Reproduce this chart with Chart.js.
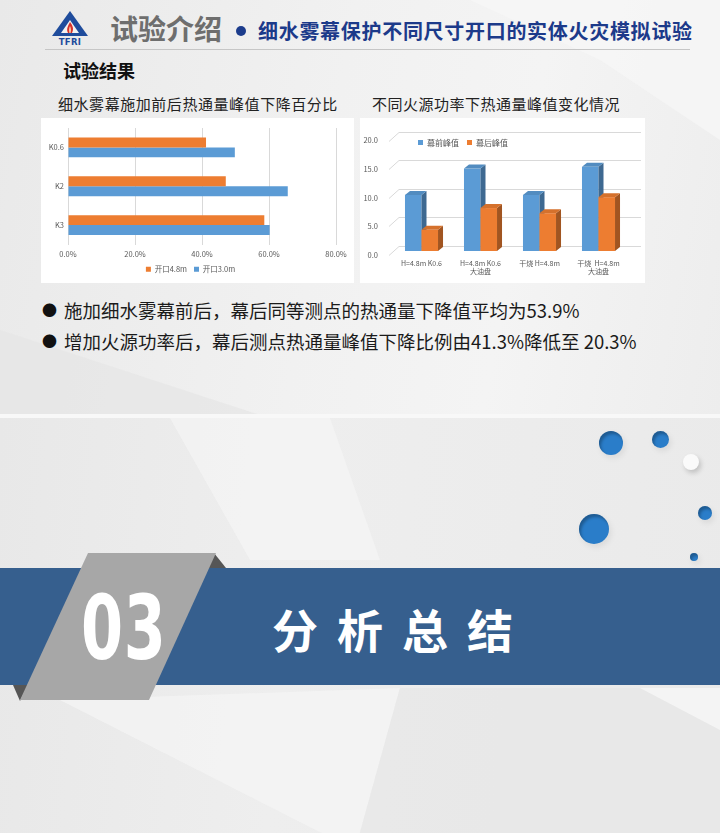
<!DOCTYPE html>
<html><head><meta charset="utf-8">
<script src="https://cdn.jsdelivr.net/npm/chart.js@4.4.1/dist/chart.umd.min.js"></script>
<style>
html,body{margin:0;padding:0;width:720px;height:833px;overflow:hidden;background:#ececec;font-family:"Noto Sans CJK SC","Noto Sans",sans-serif;}
#page{position:relative;width:720px;height:833px;overflow:hidden;}
.a{position:absolute;}
.facet{position:absolute;left:0;top:0;width:720px;height:833px;}
.dot{position:absolute;border-radius:50%;background:#2a7dc9;box-shadow:inset 2px 3px 3px rgba(0,0,0,0.28),2px 3px 6px rgba(0,0,0,0.08);}
canvas{position:absolute;background:#fff;}
.t{white-space:nowrap;line-height:1;}
</style></head><body>
<div id="page">
  <!-- top slide background -->
  <div class="a" style="left:0;top:0;width:720px;height:415px;background:linear-gradient(100deg,#e9e9e9 0%,#f1f1f1 45%,#f4f4f4 70%,#ededed 100%);"></div>
  <div class="facet" style="background:#f6f6f6;clip-path:polygon(470px 0,720px 0,720px 140px,600px 60px);opacity:.8"></div>
  <div class="facet" style="background:#e6e6e6;clip-path:polygon(0 330px,260px 415px,0 415px);opacity:.7"></div>
  <!-- divider -->
  <div class="a" style="left:0;top:414px;width:720px;height:4px;background:#f8f8f8;"></div>
  <!-- bottom slide background -->
  <div class="a" style="left:0;top:418px;width:720px;height:415px;background:linear-gradient(95deg,#e8e8e8 0%,#eeeeee 40%,#ececec 70%,#eaeaea 100%);"></div>
  <div class="facet" style="background:#f3f3f3;clip-path:polygon(170px 418px,330px 418px,380px 560px,250px 560px);opacity:.9"></div>
  <div class="facet" style="background:#f3f3f3;clip-path:polygon(60px 700px,400px 688px,355px 850px);opacity:.9"></div>
  <div class="facet" style="background:#e7e7e7;clip-path:polygon(400px 688px,720px 688px,720px 833px,360px 833px);opacity:.8"></div>
  <div class="facet" style="background:#f5f5f5;clip-path:polygon(640px 688px,720px 688px,720px 730px);opacity:.9"></div>

  <!-- header -->
  <svg class="a" style="left:50px;top:11px" width="40" height="36" viewBox="0 0 40 36">
    <polygon points="20,0 38,25 2,25" fill="#1f4c9c"/>
    <polygon points="20,9 29,22 11,22" fill="#f2f2f2"/>
    <path d="M20,11 C23,15 24,18 22,22 L18,22 C16,18 18,15 20,11 Z" fill="#d9322a"/>
    <path d="M20,15 C21,17 21.5,19 20.6,22 L19.4,22 C18.6,19 19,17 20,15 Z" fill="#f6c1a0"/>
    <text x="20" y="34" text-anchor="middle" font-family="DejaVu Sans" font-weight="bold" font-size="8.5" fill="#1f4c9c" letter-spacing="0.3">TFRI</text>
  </svg>
  <div class="a t" style="left:110px;top:14px;font-size:28px;font-weight:bold;color:#6e6e6e;">试验介绍</div>
  <div class="a" style="left:236px;top:26px;width:10px;height:10px;border-radius:50%;background:#1c3c8c;"></div>
  <div class="a t" style="left:258px;top:21px;font-size:20px;font-weight:bold;color:#1c3a8a;letter-spacing:0.7px;">细水雾幕保护不同尺寸开口的实体火灾模拟试验</div>
  <div class="a" style="left:45px;top:49px;width:645px;height:1px;background:#c6c6c6;"></div>
  <div class="a t" style="left:63px;top:61px;font-size:18px;font-weight:bold;color:#111;">试验结果</div>

  <div class="a t" style="left:58px;top:96px;font-size:15px;color:#222;letter-spacing:0.55px;">细水雾幕施加前后热通量峰值下降百分比</div>
  <div class="a t" style="left:372px;top:96px;font-size:15px;color:#222;letter-spacing:0.5px;">不同火源功率下热通量峰值变化情况</div>

  <canvas id="c1" width="313" height="165" style="left:41px;top:118px;"></canvas>
  <canvas id="c2" width="285" height="165" style="left:360px;top:118px;"></canvas>

  <div class="a t" style="left:42px;top:302px;font-size:15px;color:#111;">●</div>
  <div class="a t" style="left:64px;top:301px;font-size:18.5px;color:#1a1a1a;">施加细水雾幕前后，幕后同等测点的热通量下降值平均为53.9%</div>
  <div class="a t" style="left:42px;top:333px;font-size:15px;color:#111;">●</div>
  <div class="a t" style="left:64px;top:332px;font-size:18.5px;color:#1a1a1a;">增加火源功率后，幕后测点热通量峰值下降比例由41.3%降低至 20.3%</div>

  <!-- dots -->
  <div class="dot" style="left:599px;top:431px;width:24px;height:24px;"></div>
  <div class="dot" style="left:652px;top:431px;width:17px;height:17px;"></div>
  <div class="dot" style="left:683px;top:454px;width:16px;height:16px;background:#fafafa;box-shadow:2px 3px 5px rgba(0,0,0,0.18);"></div>
  <div class="dot" style="left:579px;top:514px;width:30px;height:30px;"></div>
  <div class="dot" style="left:698px;top:506px;width:14px;height:14px;"></div>
  <div class="dot" style="left:690px;top:553px;width:8px;height:8px;"></div>

  <!-- band -->
  <div class="a" style="left:0;top:568px;width:720px;height:117px;background:#365f8e;"></div>
  <div class="facet" style="background:#565656;clip-path:polygon(214px 553px,226px 568px,208px 568px);"></div>
  <div class="facet" style="background:#565656;clip-path:polygon(13px 685px,28px 685px,20px 701px);"></div>
  <div class="facet" style="background:#a7a7a7;clip-path:polygon(88px 553px,216px 553px,149px 700px,20px 700px);"></div>
  <div class="a t" style="left:81px;top:584px;font-family:'DejaVu Sans';font-weight:bold;font-size:89px;color:#fff;transform:scaleX(0.68);transform-origin:0 0;letter-spacing:1px;">03</div>
  <div class="a t" style="left:272px;top:605px;font-size:46px;font-weight:bold;color:#fff;letter-spacing:19px;">分析总结</div>
</div>

<script>
// ---------- data: chart 1 ----------
const cats1 = ['K0.6', 'K2', 'K3'];
const series1Names = ['开口4.8m', '开口3.0m'];
const open48 = [41.2, 47.1, 58.6];
const open30 = [49.8, 65.6, 60.2];
const xTicks1 = [0, 20, 40, 60, 80];

// ---------- data: chart 2 ----------
const cats2 = [['H=4.8m K0.6'], ['H=4.8m K0.6', '大油盘'], ['干烧 H=4.8m'], ['干烧  H=4.8m', '大油盘']];
const series2Names = ['幕前峰值', '幕后峰值'];
const peakBefore = [9.8, 14.4, 9.8, 14.7];
const peakAfter = [3.7, 7.5, 6.6, 9.4];
const yTicks2 = [0, 5, 10, 15, 20];

const BLUE = '#5b9bd5', ORANGE = '#ed7d31';
const TICK = '#595959';
const FONT = '"Noto Sans CJK SC","Noto Sans",sans-serif';
Chart.defaults.font.family = FONT;

new Chart(document.getElementById('c1'), {
  type: 'bar',
  data: {
    labels: cats1,
    datasets: [
      { label: series1Names[0], data: open48, backgroundColor: ORANGE },
      { label: series1Names[1], data: open30, backgroundColor: BLUE }
    ]
  },
  options: {
    indexAxis: 'y', responsive: false, animation: false, devicePixelRatio: 1,
    layout: { padding: { left: 4, right: 18, top: 10, bottom: 0 } },
    datasets: { bar: { barPercentage: 1, categoryPercentage: 0.51 } },
    scales: {
      x: {
        min: xTicks1[0], max: xTicks1[xTicks1.length - 1],
        afterBuildTicks: s => { s.ticks = xTicks1.map(v => ({ value: v })); },
        ticks: { callback: v => v.toFixed(1) + '%', color: TICK, font: { size: 7.5 }, padding: 5, maxRotation: 0 },
        grid: { color: '#d9d9d9', drawTicks: false },
        border: { display: false },
        afterFit: s => { s.height = 14; }
      },
      y: {
        ticks: { color: TICK, font: { size: 7.5 }, padding: 4 },
        grid: { display: false, drawTicks: false },
        border: { display: false },
        afterFit: s => { s.width = 23; }
      }
    },
    plugins: {
      legend: { position: 'bottom', labels: { boxWidth: 5, boxHeight: 5, font: { size: 7.5 }, color: TICK, padding: 7 } },
      tooltip: { enabled: false }
    }
  }
});

const D = 5, DY = 4;
function shade(hex, f) {
  const n = parseInt(hex.slice(1), 16);
  const r = Math.round(((n >> 16) & 255) * f), g = Math.round(((n >> 8) & 255) * f), b = Math.round((n & 255) * f);
  return `rgb(${Math.min(r,255)},${Math.min(g,255)},${Math.min(b,255)})`;
}
const bar3d = {
  id: 'bar3d',
  beforeDatasetsDraw(chart) {
    const ctx = chart.ctx, ys = chart.scales.y, a = chart.chartArea;
    ctx.save();
    ctx.strokeStyle = '#d9d9d9'; ctx.lineWidth = 1;
    ys.ticks.forEach((t) => {
      const py = Math.round(ys.getPixelForValue(t.value)) + 0.5;
      ctx.beginPath();
      ctx.moveTo(a.left - 3, py + 4);
      ctx.lineTo(a.left + 7, py - 5);
      ctx.lineTo(a.right + 13, py - 5);
      ctx.stroke();
    });
    const n = chart.data.labels.length;
    for (let i = 0; i < n; i++) {
      chart.data.datasets.forEach((ds, di) => {
        const el = chart.getDatasetMeta(di).data[i];
        const { x, y, base, width } = el.getProps(['x', 'y', 'base', 'width'], true);
        const l = x - width / 2, r = x + width / 2;
        const col = ds.backgroundColor;
        ctx.fillStyle = col;
        ctx.fillRect(l, y, width, base - y);
        ctx.fillStyle = shade(col, 0.68);
        ctx.beginPath();
        ctx.moveTo(r, y); ctx.lineTo(r + D, y - DY); ctx.lineTo(r + D, base - DY); ctx.lineTo(r, base); ctx.closePath(); ctx.fill();
        ctx.fillStyle = shade(col, 0.9);
        ctx.beginPath();
        ctx.moveTo(l, y); ctx.lineTo(r, y); ctx.lineTo(r + D, y - DY); ctx.lineTo(l + D, y - DY); ctx.closePath(); ctx.fill();
      });
    }
    ctx.restore();
    return false;
  },
  afterLayout(chart) {
    const lg = chart.legend;
    if (lg) {
      const w = lg.width;
      lg.left = chart.chartArea.left + 18;
      lg.right = lg.left + w;
      lg.top = chart.chartArea.top - 6;
    }
  }
};

const ch2 = new Chart(document.getElementById('c2'), {
  type: 'bar',
  data: {
    labels: cats2,
    datasets: [
      { label: series2Names[0], data: peakBefore, backgroundColor: BLUE },
      { label: series2Names[1], data: peakAfter, backgroundColor: ORANGE }
    ]
  },
  options: {
    responsive: false, animation: false, devicePixelRatio: 1,
    layout: { padding: { left: 0, right: 17, top: 15, bottom: 0 } },
    datasets: { bar: { barPercentage: 1, categoryPercentage: 0.56 } },
    scales: {
      x: {
        ticks: { color: TICK, font: { size: 7 }, padding: 8, maxRotation: 0, autoSkip: false },
        grid: { display: false, drawTicks: false },
        border: { display: false },
        afterFit: s => { s.height = 32; }
      },
      y: {
        min: yTicks2[0], max: yTicks2[yTicks2.length - 1],
        afterBuildTicks: s => { s.ticks = yTicks2.map(v => ({ value: v })); },
        ticks: { callback: v => v.toFixed(1), color: TICK, font: { size: 7.5 }, padding: 14, labelOffset: 4 },
        grid: { display: false, drawTicks: false },
        border: { display: false },
        afterFit: s => { s.width = 32; }
      }
    },
    plugins: {
      legend: { position: 'chartArea', align: 'start', labels: { boxWidth: 5, boxHeight: 5, font: { size: 8 }, color: TICK, padding: 8 } },
      tooltip: { enabled: false }
    }
  },
  plugins: [bar3d]
});
// lay the in-plot legend out as a single row
ch2.legend.isHorizontal = () => true;
ch2.update();
</script>
</body></html>
